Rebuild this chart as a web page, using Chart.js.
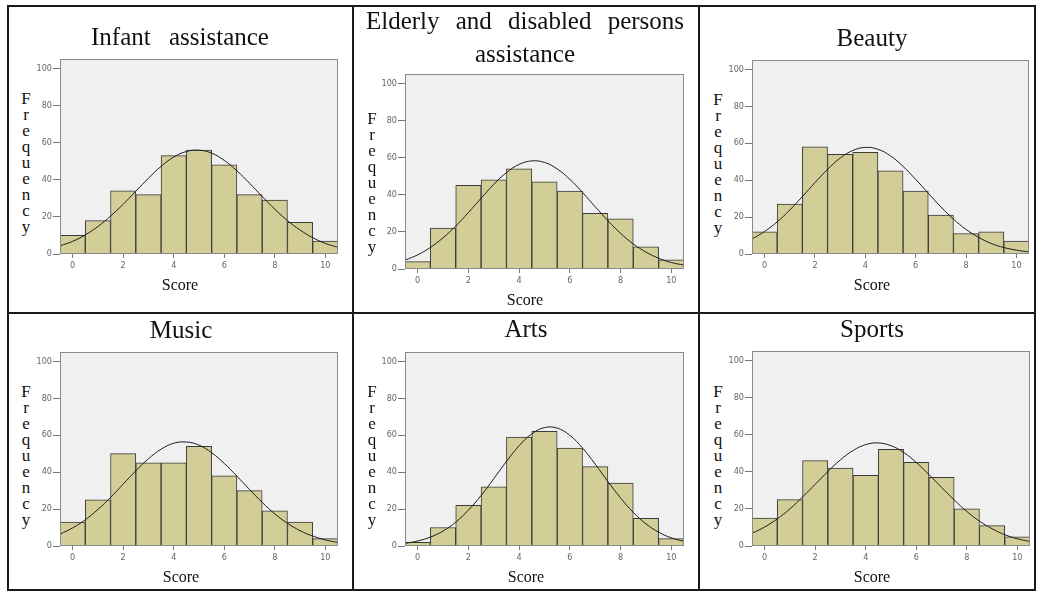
<!DOCTYPE html>
<html>
<head>
<meta charset="utf-8">
<script src="https://cdn.jsdelivr.net/npm/chart.js@4.4.1/dist/chart.umd.min.js"></script>
<style>
html,body{margin:0;padding:0;background:#fff;width:1037px;height:591px;overflow:hidden;position:relative;}
.box{position:absolute;border:2px solid #1a1a1a;box-sizing:border-box;}
.rule{position:absolute;background:#1a1a1a;}
.title{position:absolute;width:340px;font-family:'Liberation Serif','DejaVu Serif',serif;font-size:25px;color:#111;text-align:center;white-space:nowrap;}
.freq{position:absolute;width:20px;font-family:'Liberation Serif','DejaVu Serif',serif;font-size:17px;line-height:16px;color:#111;text-align:center;}
.score{position:absolute;width:200px;font-family:'Liberation Serif','DejaVu Serif',serif;font-size:16px;line-height:20px;color:#111;text-align:center;}
canvas{position:absolute;}
</style>
</head>
<body>
<div class="box" style="left:7px;top:5px;width:1029px;height:586px;"></div>
<div class="rule" style="left:352px;top:5px;width:2px;height:586px;"></div>
<div class="rule" style="left:698px;top:5px;width:2px;height:586px;"></div>
<div class="rule" style="left:7px;top:312px;width:1029px;height:2px;"></div>
<script>
// ---- data ----
const binCenters = [0, 1, 2, 3, 4, 5, 6, 7, 8, 9, 10];
const xTickValues = [0, 2, 4, 6, 8, 10];
const yTickValues = [0, 20, 40, 60, 80, 100];
const curveX = [-0.5, 0, 0.5, 1, 1.5, 2, 2.5, 3, 3.5, 4, 4.5, 5, 5.5, 6, 6.5, 7, 7.5, 8, 8.5, 9, 9.5, 10, 10.5];

const infantCounts  = [10, 18, 34, 32, 53, 56, 48, 32, 29, 17, 7];
const elderlyCounts = [4, 22, 45, 48, 54, 47, 42, 30, 27, 12, 5];
const beautyCounts  = [12, 27, 58, 54, 55, 45, 34, 21, 11, 12, 7];
const musicCounts   = [13, 25, 50, 45, 45, 54, 38, 30, 19, 13, 4];
const artsCounts    = [2, 10, 22, 32, 59, 62, 53, 43, 34, 15, 4];
const sportsCounts  = [15, 25, 46, 42, 38, 52, 45, 37, 20, 11, 5];

const infantCurve  = [4.4, 6.8, 10.3, 14.8, 20.4, 26.8, 33.8, 40.8, 47.2, 52.2, 55.2, 55.9, 54.3, 50.4, 44.8, 38.1, 31.0, 24.1, 18.0, 12.9, 8.8, 5.7, 3.6];
const elderlyCurve = [4.8, 7.6, 11.6, 16.8, 23.1, 30.4, 38.1, 45.6, 51.9, 56.3, 58.2, 57.4, 53.9, 48.3, 41.2, 33.5, 26.0, 19.2, 13.5, 9.1, 5.8, 3.5, 2.1];
const beautyCurve  = [8.1, 12.2, 17.4, 23.8, 31.1, 38.6, 45.8, 51.9, 56.0, 57.7, 56.7, 53.1, 47.4, 40.4, 32.9, 25.5, 18.9, 13.3, 9.0, 5.7, 3.5, 2.1, 1.1];
const musicCurve   = [6.4, 9.8, 14.2, 19.8, 26.3, 33.5, 40.7, 47.2, 52.4, 55.6, 56.3, 54.6, 50.5, 44.7, 37.8, 30.6, 23.6, 17.4, 12.3, 8.3, 5.4, 3.3, 1.9];
const artsCurve    = [1.4, 2.7, 4.8, 8.1, 12.9, 19.4, 27.3, 36.4, 45.8, 54.3, 60.7, 64.1, 63.8, 59.9, 53.0, 44.3, 34.9, 26.0, 18.2, 12.0, 7.5, 4.4, 2.5];
const sportsCurve  = [6.8, 10.2, 14.6, 20.0, 26.4, 33.2, 40.1, 46.4, 51.4, 54.6, 55.5, 54.0, 50.4, 45.0, 38.5, 31.6, 24.8, 18.6, 13.4, 9.3, 6.1, 3.9, 2.4];

const panelTitles = [["Infant assistance"], ["Elderly and disabled persons", "assistance"], ["Beauty"], ["Music"], ["Arts"], ["Sports"]];
const xAxisTitle = "Score";
const yAxisTitle = "Frequency";

// ---- layout (positions / styles only) ----
const panels = [
  {counts: infantCounts,  curve: infantCurve,  title: panelTitles[0], left: 60,  top: 59,  right: 338,  bottom: 254, cx: 180, titleTop: 22,  lh: 30, ws: 12, freqX: 26,  freqTop: 91,  scoreTop: 275},
  {counts: elderlyCounts, curve: elderlyCurve, title: panelTitles[1], left: 405, top: 74,  right: 684,  bottom: 269, cx: 525, titleTop: 4,   lh: 33, ws: 10, freqX: 372, freqTop: 111, scoreTop: 290},
  {counts: beautyCounts,  curve: beautyCurve,  title: panelTitles[2], left: 752, top: 60,  right: 1029, bottom: 254, cx: 872, titleTop: 23,  lh: 30, ws: 0,  freqX: 718, freqTop: 92,  scoreTop: 275},
  {counts: musicCounts,   curve: musicCurve,   title: panelTitles[3], left: 60,  top: 352, right: 338,  bottom: 546, cx: 181, titleTop: 315, lh: 30, ws: 0,  freqX: 26,  freqTop: 384, scoreTop: 567},
  {counts: artsCounts,    curve: artsCurve,    title: panelTitles[4], left: 405, top: 352, right: 684,  bottom: 546, cx: 526, titleTop: 314, lh: 30, ws: 0,  freqX: 372, freqTop: 384, scoreTop: 567},
  {counts: sportsCounts,  curve: sportsCurve,  title: panelTitles[5], left: 752, top: 351, right: 1030, bottom: 546, cx: 872, titleTop: 314, lh: 30, ws: 0,  freqX: 718, freqTop: 384, scoreTop: 567}
];

const tickFont = {family: "'Liberation Sans Narrow','DejaVu Sans Condensed','Liberation Sans',Arial,sans-serif", size: 9};

const plotFrame = {
  id: 'plotFrame',
  beforeDraw(chart) {
    const {ctx, chartArea: a} = chart;
    ctx.save();
    ctx.fillStyle = '#f0f0f0';
    ctx.fillRect(a.left, a.top, a.right - a.left, a.bottom - a.top);
    ctx.restore();
  },
  afterDraw(chart) {
    const {ctx, chartArea: a} = chart;
    ctx.save();
    ctx.strokeStyle = '#8a8a8a';
    ctx.lineWidth = 1;
    ctx.strokeRect(a.left + 0.5, a.top + 0.5, a.right - a.left - 1, a.bottom - a.top - 1);
    ctx.restore();
  }
};

function addText(cls, left, top, html, extra) {
  const d = document.createElement('div');
  d.className = cls;
  d.style.left = left + 'px';
  d.style.top = top + 'px';
  if (extra) Object.assign(d.style, extra);
  d.innerHTML = html;
  document.body.appendChild(d);
}

function makePanel(p) {
  const padTop = 8, yW = 24, padRight = 2, xH = 26;
  const w = yW + (p.right - p.left) + padRight;
  const h = padTop + (p.bottom - p.top) + xH;
  const canvas = document.createElement('canvas');
  canvas.width = w; canvas.height = h;
  canvas.style.width = w + 'px'; canvas.style.height = h + 'px';
  canvas.style.left = (p.left - yW) + 'px';
  canvas.style.top = (p.top - padTop) + 'px';
  document.body.appendChild(canvas);

  new Chart(canvas, {
    data: {
      datasets: [
        {type: 'line', data: curveX.map((x, i) => ({x: x, y: p.curve[i]})), borderColor: '#1e1e1e', borderWidth: 1,
         pointRadius: 0, tension: 0.4, fill: false, order: 0},
        {type: 'bar', data: binCenters.map((x, i) => ({x: x, y: p.counts[i]})), backgroundColor: '#d3ce97',
         borderColor: '#3a3a3a', borderWidth: 1, barPercentage: 1, categoryPercentage: 1, order: 1}
      ]
    },
    options: {
      responsive: false, animation: false, maintainAspectRatio: false,
      layout: {padding: {top: padTop, left: 0, right: padRight, bottom: 0}},
      plugins: {legend: {display: false}, tooltip: {enabled: false}, title: {display: false}},
      scales: {
        x: {
          type: 'linear', min: -0.5, max: 10.5, offset: false,
          afterBuildTicks: s => { s.ticks = xTickValues.map(v => ({value: v})); },
          afterFit: s => { s.height = xH; },
          grid: {drawOnChartArea: false, drawTicks: true, tickLength: 4, color: '#777', offset: false},
          border: {display: false},
          ticks: {padding: 2, color: '#666', font: tickFont, maxRotation: 0, autoSkip: false}
        },
        y: {
          type: 'linear', min: 0, max: 105,
          afterBuildTicks: s => { s.ticks = yTickValues.map(v => ({value: v})); },
          afterFit: s => { s.width = yW; },
          grid: {drawOnChartArea: false, drawTicks: true, tickLength: 7, color: '#777'},
          border: {display: false},
          ticks: {padding: 1, color: '#666', font: tickFont}
        }
      }
    },
    plugins: [plotFrame]
  });

  addText('title', p.cx - 170, p.titleTop, p.title.join('<br>'), {lineHeight: p.lh + 'px', wordSpacing: p.ws + 'px'});
  addText('freq', p.freqX - 10, p.freqTop, yAxisTitle.split('').join('<br>'));
  addText('score', p.cx - 100, p.scoreTop, xAxisTitle);
}

panels.forEach(makePanel);
</script>
</body>
</html>
